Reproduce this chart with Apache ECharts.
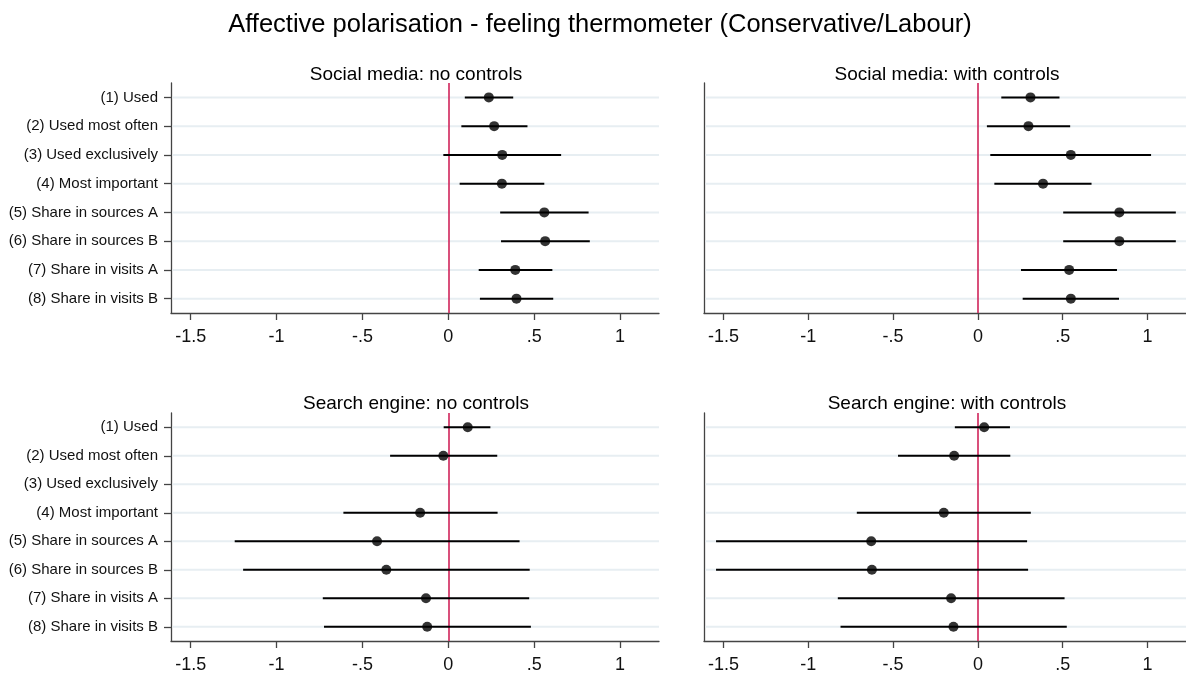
<!DOCTYPE html>
<html>
<head>
<meta charset="utf-8">
<script src="https://cdn.jsdelivr.net/npm/echarts@6/dist/echarts.min.js"></script>
<style>
  html, body { margin: 0; padding: 0; background: #fff; }
  #chart { width: 1186px; height: 675px; }
</style>
</head>
<body>
<div id="chart"></div>
<script>
// Outcome rows (same in all four panels)
const categories = [
  '(1) Used',
  '(2) Used most often',
  '(3) Used exclusively',
  '(4) Most important',
  '(5) Share in sources A',
  '(6) Share in sources B',
  '(7) Share in visits A',
  '(8) Share in visits B'
];

// x-axis tick positions
const xTicks = [-1.5, -1, -0.5, 0, 0.5, 1];

// Social media, no controls: point estimate and 95% CI
const socialNoEst = [0.236, 0.267, 0.314, 0.312, 0.559, 0.564, 0.390, 0.397];
const socialNoLo  = [0.096, 0.076, -0.029, 0.066, 0.302, 0.307, 0.177, 0.184];
const socialNoHi  = [0.378, 0.461, 0.657, 0.559, 0.817, 0.824, 0.606, 0.611];

// Social media, with controls
const socialCtrlEst = [0.310, 0.298, 0.548, 0.384, 0.834, 0.834, 0.538, 0.548];
const socialCtrlLo  = [0.138, 0.053, 0.073, 0.097, 0.503, 0.503, 0.254, 0.264];
const socialCtrlHi  = [0.481, 0.544, 1.021, 0.670, 1.167, 1.167, 0.820, 0.832];

// Search engine, no controls (row 3 not estimated)
const searchNoEst = [0.113, -0.029, null, -0.164, -0.415, -0.361, -0.130, -0.123];
const searchNoLo  = [-0.027, -0.339, null, -0.611, -1.244, -1.195, -0.731, -0.724];
const searchNoHi  = [0.245, 0.285, null, 0.287, 0.415, 0.474, 0.471, 0.481];

// Search engine, with controls
const searchCtrlEst = [0.037, -0.140, null, -0.201, -0.629, -0.625, -0.158, -0.144];
const searchCtrlLo  = [-0.136, -0.471, null, -0.714, -1.544, -1.544, -0.826, -0.810];
const searchCtrlHi  = [0.189, 0.191, null, 0.312, 0.290, 0.296, 0.511, 0.524];

const mainTitle = 'Affective polarisation - feeling thermometer (Conservative/Labour)';
const panelTitles = [
  'Social media: no controls',
  'Social media: with controls',
  'Search engine: no controls',
  'Search engine: with controls'
];

const panels = [
  { est: socialNoEst, lo: socialNoLo, hi: socialNoHi },
  { est: socialCtrlEst, lo: socialCtrlLo, hi: socialCtrlHi },
  { est: searchNoEst, lo: searchNoLo, hi: searchNoHi },
  { est: searchCtrlEst, lo: searchCtrlLo, hi: searchCtrlHi }
];

const FONT = '"Liberation Sans", Arial, sans-serif';
const X_MIN = -1.615, X_MAX = 1.227;

const gridBoxes = [
  { left: 171, top: 83, width: 488, height: 230 },
  { left: 704, top: 83, width: 483, height: 230 },
  { left: 171, top: 413, width: 488, height: 228 },
  { left: 704, top: 413, width: 483, height: 228 }
];
const titleCenters = [
  { x: 411, y: 60 },
  { x: 942, y: 60 },
  { x: 411, y: 389 },
  { x: 942, y: 389 }
];

function fmtTick(v) {
  if (v === 0) return '0';
  return String(v).replace('0.', '.');
}

const chart = echarts.init(document.getElementById('chart'), null, { renderer: 'canvas' });

const grid = [], xAxis = [], yAxis = [], series = [];
const title = [{
  text: mainTitle,
  left: 595,
  top: 7,
  textAlign: 'center',
  textStyle: { fontFamily: FONT, fontSize: 25.5, fontWeight: 'normal', color: '#000' }
}];

panels.forEach((p, i) => {
  const isLeft = (i % 2 === 0);
  grid.push(Object.assign({ containLabel: false }, gridBoxes[i]));
  title.push({
    text: panelTitles[i],
    left: titleCenters[i].x,
    top: titleCenters[i].y,
    textAlign: 'center',
    textStyle: { fontFamily: FONT, fontSize: 19, fontWeight: 'normal', color: '#000' }
  });
  xAxis.push({
    type: 'value',
    gridIndex: i,
    min: X_MIN,
    max: X_MAX,
    splitLine: { show: false },
    axisLine: { show: true, onZero: false, lineStyle: { color: '#444', width: 1.3 } },
    axisTick: { show: true, length: 7, customValues: xTicks, lineStyle: { color: '#444', width: 1.3 } },
    axisLabel: {
      show: true, customValues: xTicks, formatter: fmtTick,
      fontFamily: FONT, fontSize: 18, color: '#111', margin: 15
    }
  });
  yAxis.push({
    type: 'category',
    gridIndex: i,
    data: categories,
    inverse: true,
    boundaryGap: true,
    splitLine: { show: false },
    axisLine: { show: true, onZero: false, lineStyle: { color: '#444', width: 1.3 } },
    axisTick: { show: isLeft, alignWithLabel: true, length: 7, lineStyle: { color: '#444', width: 1.3 } },
    axisLabel: { show: isLeft, fontFamily: FONT, fontSize: 15, color: '#111', margin: 13, interval: 0 }
  });

  // Row gridlines and the zero reference line
  series.push({
    type: 'custom',
    xAxisIndex: i,
    yAxisIndex: i,
    z: 1,
    silent: true,
    encode: { x: 0, y: 1 },
    data: categories.map((c, k) => [0, k]),
    renderItem: function (params, api) {
      const y = api.coord([0, api.value(1)])[1];
      const cs = params.coordSys;
      return {
        type: 'line',
        shape: { x1: cs.x + 1.5, y1: y, x2: cs.x + cs.width, y2: y },
        style: { stroke: '#e7eef2', lineWidth: 2 }
      };
    },
    markLine: {
      silent: true,
      z: 2,
      symbol: ['none', 'none'],
      label: { show: false },
      lineStyle: { color: '#d0245a', width: 1.6, type: 'solid' },
      emphasis: { disabled: true },
      data: [{ xAxis: 0 }]
    }
  });

  // Confidence intervals
  const ciData = [];
  p.est.forEach((e, k) => {
    if (e !== null) ciData.push([p.lo[k], p.hi[k], k]);
  });
  series.push({
    type: 'custom',
    xAxisIndex: i,
    yAxisIndex: i,
    z: 3,
    silent: true,
    encode: { x: [0, 1], y: 2 },
    data: ciData,
    renderItem: function (params, api) {
      const a = api.coord([api.value(0), api.value(2)]);
      const b = api.coord([api.value(1), api.value(2)]);
      return {
        type: 'line',
        shape: { x1: a[0], y1: a[1], x2: b[0], y2: b[1] },
        style: { stroke: '#000', lineWidth: 2 }
      };
    }
  });

  // Point estimates
  const ptData = [];
  p.est.forEach((e, k) => {
    if (e !== null) ptData.push([e, k]);
  });
  series.push({
    type: 'scatter',
    xAxisIndex: i,
    yAxisIndex: i,
    z: 4,
    silent: true,
    symbol: 'circle',
    symbolSize: 10,
    itemStyle: { color: '#000' },
    data: ptData
  });
});

chart.setOption({
  backgroundColor: '#fff',
  animation: false,
  title: title,
  grid: grid,
  xAxis: xAxis,
  yAxis: yAxis,
  series: series
});
</script>
</body>
</html>
